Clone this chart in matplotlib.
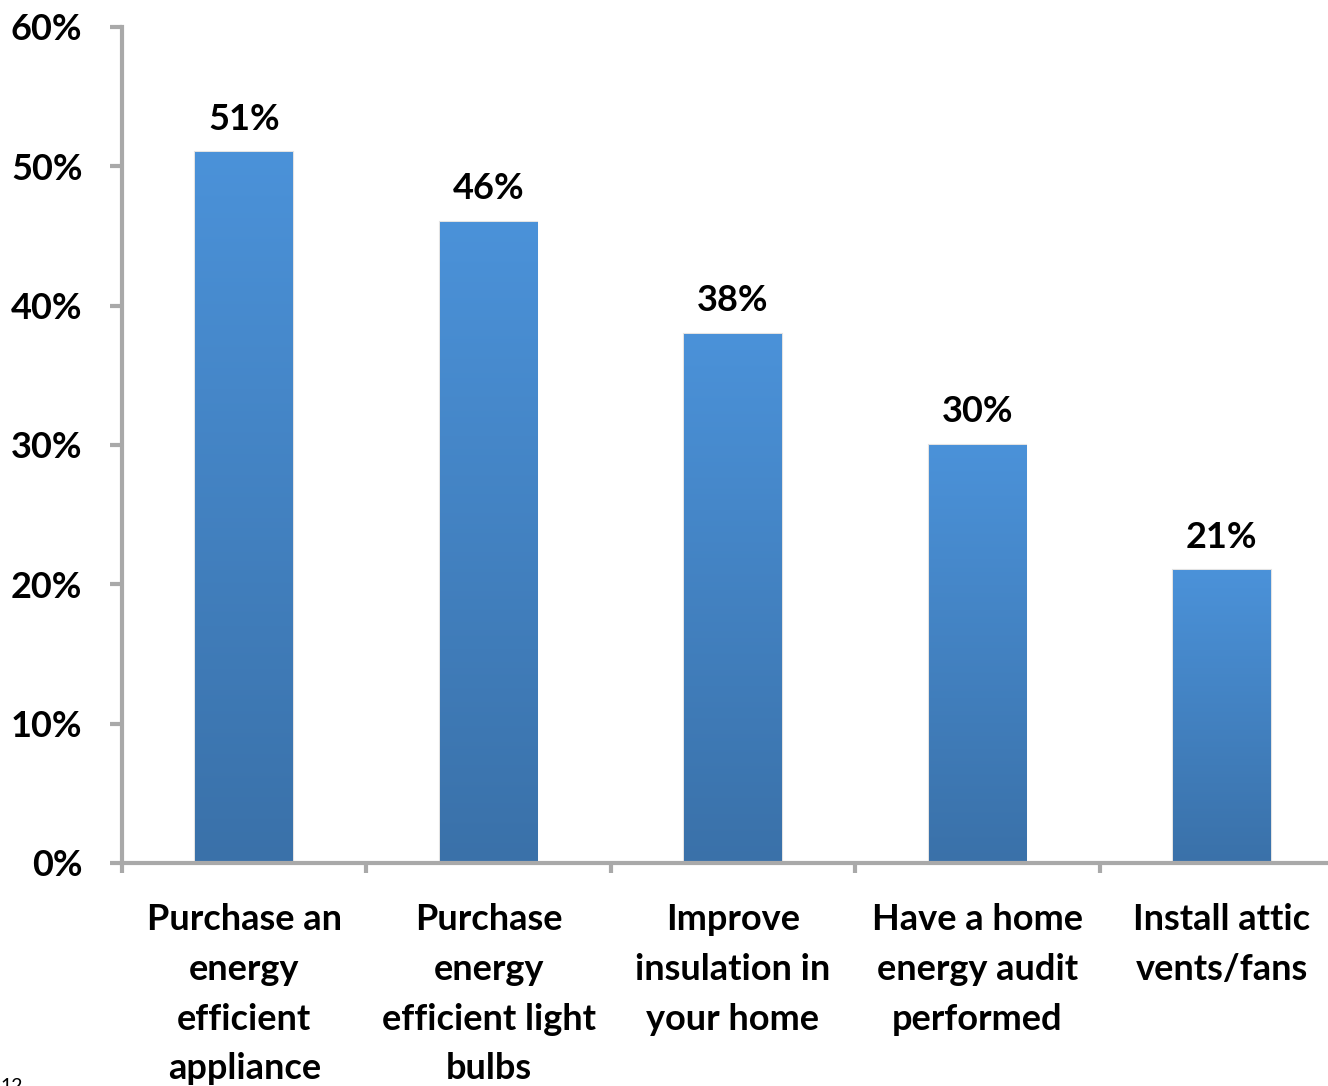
import matplotlib.pyplot as plt
import numpy as np
from matplotlib.colors import LinearSegmentedColormap
from matplotlib.ticker import FuncFormatter

categories = [
    "Purchase an\nenergy\nefficient\nappliance",
    "Purchase\nenergy\nefficient light\nbulbs",
    "Improve\ninsulation in\nyour home",
    "Have a home\nenergy audit\nperformed",
    "Install attic\nvents/fans",
]
values = [51, 46, 38, 30, 21]
value_labels = ["51%", "46%", "38%", "30%", "21%"]
yticks = [0, 10, 20, 30, 40, 50, 60]

FONT = "Lato"
SPINE = "#a9a9a9"
FS = 26


def main() -> None:
    fig = plt.figure(figsize=(13.28, 10.86), dpi=100)
    ax = fig.add_axes([122 / 1328, 223 / 1086, 1222 / 1328, 836 / 1086])

    x = np.arange(len(values))
    bars = ax.bar(x, values, width=0.4, color="#4a8fd4", zorder=2,
                  edgecolor="#e3e3e3", linewidth=1.5)

    # vertical gradient fill, light at top, darker at bottom
    cmap = LinearSegmentedColormap.from_list("bar", ["#3a71a9", "#4b92d9"])
    grad = np.linspace(0, 1, 256).reshape(-1, 1)
    for bar in bars:
        x0 = bar.get_x()
        w = bar.get_width()
        h = bar.get_height()
        im = ax.imshow(grad, cmap=cmap, origin="lower", aspect="auto",
                       extent=[x0, x0 + w, 0, h], zorder=3)
        im.set_clip_path(bar)

    for xi, v, lab in zip(x, values, value_labels):
        ax.annotate(lab, (xi, v), xytext=(0, 12), textcoords="offset points",
                    ha="center", va="bottom", fontsize=FS, fontweight="bold",
                    family=FONT, color="black")

    ax.set_xlim(-0.5, len(values) - 0.5)
    ax.set_ylim(0, 60)
    ax.set_yticks(yticks)
    ax.yaxis.set_major_formatter(FuncFormatter(lambda v, p: f"{v:.0f}%"))
    ax.set_xticks(np.arange(len(values) + 1) - 0.5, minor=False)
    ax.set_xticklabels([])
    ax.set_xticks(x, minor=True)
    ax.set_xticklabels(categories, minor=True, fontsize=FS,
                       fontweight="bold", family=FONT, linespacing=1.62)
    ax.tick_params(axis="x", which="minor", length=0, pad=29)
    ax.tick_params(axis="x", which="major", length=7, width=3, color=SPINE)
    ax.tick_params(axis="y", length=8.5, width=3, color=SPINE, pad=20)
    for t in ax.get_yticklabels():
        t.set_fontsize(FS)
        t.set_fontweight("bold")
        t.set_family(FONT)

    for side in ["top", "right"]:
        ax.spines[side].set_visible(False)
    for side in ["left", "bottom"]:
        ax.spines[side].set_color(SPINE)
        ax.spines[side].set_linewidth(3)
    ax.spines["bottom"].set_zorder(5)

    fig.text(0.0, 0.0, "12", fontsize=14, family=FONT, va="center",
             ha="left", color="black")

    fig.savefig("out.png", dpi=100)


if __name__ == "__main__":
    main()
